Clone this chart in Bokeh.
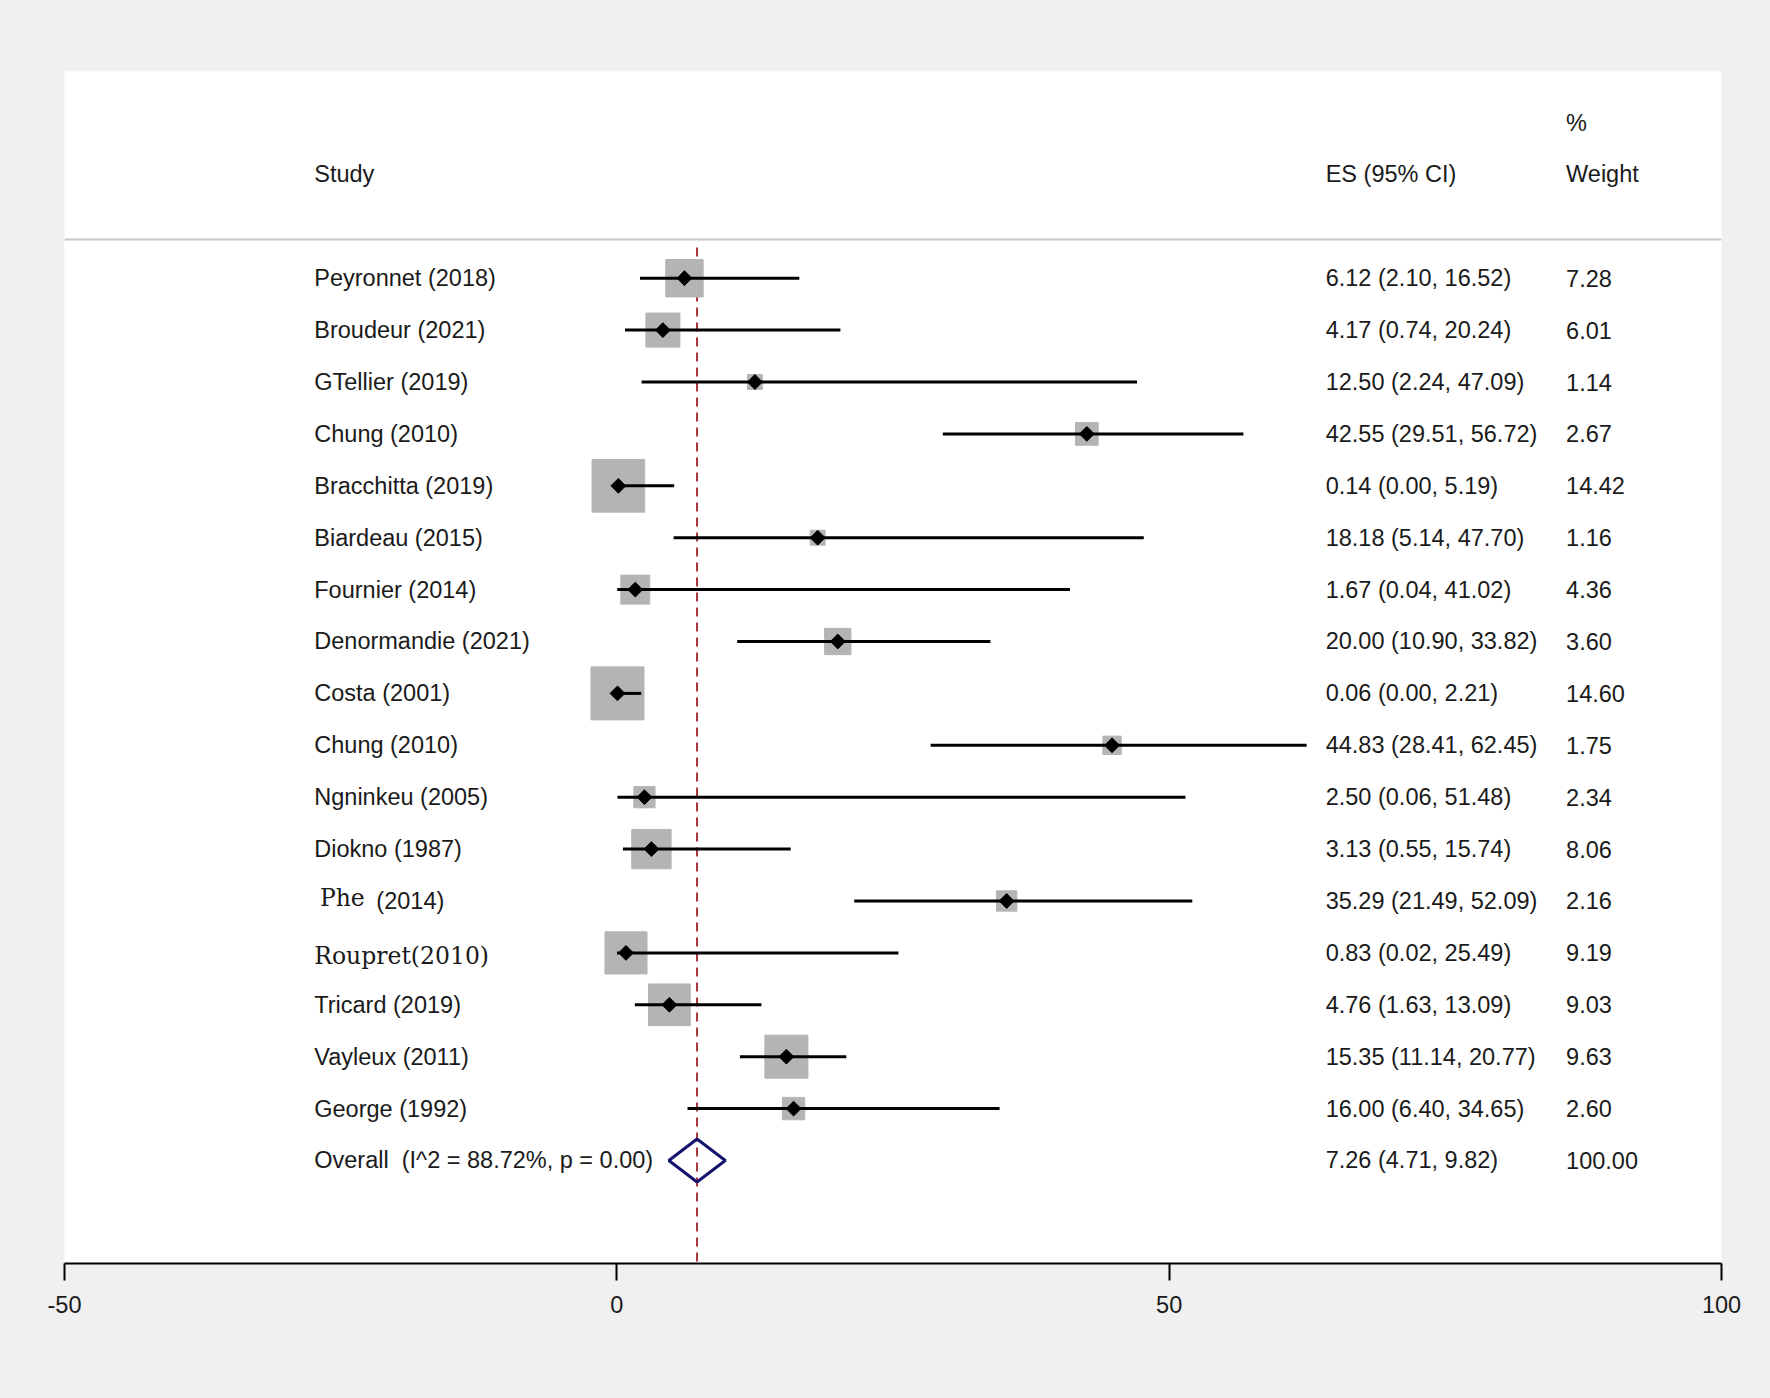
import numpy as np
from bokeh.plotting import figure
from bokeh.models import ColumnDataSource, Range1d, FixedTicker
from bokeh.core.properties import value
from bokeh.embed import file_html
from bokeh.resources import INLINE

# ---------------- data ----------------
studies = ["Peyronnet (2018)", "Broudeur (2021)", "GTellier (2019)", "Chung (2010)",
           "Bracchitta (2019)", "Biardeau (2015)", "Fournier (2014)", "Denormandie (2021)",
           "Costa (2001)", "Chung (2010)", "Ngninkeu (2005)", "Diokno (1987)",
           "Phe  (2014)", "Roupret(2010)", "Tricard (2019)", "Vayleux (2011)", "George (1992)"]
es = [6.12, 4.17, 12.50, 42.55, 0.14, 18.18, 1.67, 20.00, 0.06, 44.83, 2.50, 3.13,
      35.29, 0.83, 4.76, 15.35, 16.00]
ci_low = [2.10, 0.74, 2.24, 29.51, 0.00, 5.14, 0.04, 10.90, 0.00, 28.41, 0.06, 0.55,
          21.49, 0.02, 1.63, 11.14, 6.40]
ci_high = [16.52, 20.24, 47.09, 56.72, 5.19, 47.70, 41.02, 33.82, 2.21, 62.45, 51.48, 15.74,
           52.09, 25.49, 13.09, 20.77, 34.65]
weights = [7.28, 6.01, 1.14, 2.67, 14.42, 1.16, 4.36, 3.60, 14.60, 1.75, 2.34, 8.06,
           2.16, 9.19, 9.03, 9.63, 2.60]
overall_es = 7.26
overall_low = 4.71
overall_high = 9.82
overall_weight = 100.00
i2 = 88.72
p_val = 0.00
x_ticks = [-50, 0, 50, 100]

# ---------------- layout constants ----------------
n = len(studies)
rows = list(range(n))
overall_row = n
X_STUDY = -27.39
X_ES = 64.17
X_W = 85.93
SANS = "Liberation Sans"
SERIF = "DejaVu Serif"
FS = "23.5px"
TXT = "#1a1a1a"

W, H = 1762, 1390
p = figure(width=W, height=H, output_backend="svg", toolbar_location=None,
           x_range=Range1d(-50, 100), y_range=Range1d(18.985, -3.983),
           y_axis_location=None, min_border_left=64, min_border_right=41,
           min_border_top=71, min_border_bottom=127)
p.border_fill_color = "#f0f0f0"
p.background_fill_color = "white"
p.outline_line_color = None
p.xgrid.visible = False
p.ygrid.visible = False

# x axis
ax = p.xaxis[0]
ax.ticker = FixedTicker(ticks=x_ticks)
ax.major_label_overrides = {t: str(t) for t in x_ticks}
ax.axis_line_color = "black"
ax.axis_line_width = 2
ax.major_tick_line_color = "black"
ax.major_tick_line_width = 2
ax.major_tick_out = 17
ax.major_tick_in = 0
ax.minor_tick_line_color = None
ax.major_label_text_font = SANS
ax.major_label_text_font_size = FS
ax.major_label_text_color = TXT
ax.major_label_standoff = 15

# header separator
p.segment(x0=[-50], y0=[-0.746], x1=[100], y1=[-0.746], line_color="#c8c8c8", line_width=2)

# reference dashed line at overall estimate
p.segment(x0=[overall_es], y0=[-0.59], x1=[overall_es], y1=[18.985],
          line_color="#a8343c", line_width=2, line_dash="9 6")

# weight squares
sizes = [53.0 * np.sqrt(w / 14.6) for w in weights]
src = ColumnDataSource(dict(y=rows, es=es, lo=ci_low, hi=ci_high, size=sizes))
p.scatter(x="es", y="y", size="size", marker="square", source=src,
          fill_color="#b4b4b4", line_color="#b4b4b4", line_width=1)
# CI lines
p.segment(x0="lo", y0="y", x1="hi", y1="y", source=src, line_color="black", line_width=3)
# point estimates
p.scatter(x="es", y="y", size=10.5, marker="square", angle=np.pi / 4, source=src,
          fill_color="black", line_color="black")

# overall diamond
p.patch(x=[overall_low, overall_es, overall_high, overall_es],
        y=[overall_row, overall_row - 0.414, overall_row, overall_row + 0.414],
        fill_color="white", fill_alpha=0.0, line_color="#14146e", line_width=3)

def txt(x, y, t, font=SANS, **kw):
    p.text(x=[x] if not isinstance(x, list) else x,
           y=[y] if not isinstance(y, list) else y,
           text=[t] if not isinstance(t, list) else t,
           text_font=value(font), text_font_size=FS, text_color=TXT,
           text_baseline="middle", text_align="left", **kw)

# headers
txt(X_STUDY, -2, "Study")
txt(X_ES, -2, "ES (95% CI)")
txt(X_W, -3, "%")
txt(X_W, -2, "Weight")

# study labels
for i, name in enumerate(studies):
    if name.startswith("Phe"):
        first, rest = name.split(" ", 1)
        txt(-26.88, i - 0.065, first, font=SERIF)
        txt(-21.77, i, rest.strip())
    elif name.startswith("Roupret"):
        txt(X_STUDY, i + 0.065, name, font=SERIF)
    else:
        txt(X_STUDY, i, name)

es_labels = [f"{e:.2f} ({l:.2f}, {h:.2f})" for e, l, h in zip(es, ci_low, ci_high)]
w_labels = [f"{w:.2f}" for w in weights]
txt([X_ES] * n, rows, es_labels)
txt([X_W] * n, rows, w_labels)

txt(X_STUDY, overall_row, f"Overall \u00a0(I^2 = {i2:.2f}%, p = {p_val:.2f})")
txt(X_ES, overall_row, f"{overall_es:.2f} ({overall_low:.2f}, {overall_high:.2f})")
txt(X_W, overall_row, f"{overall_weight:.2f}")

html = file_html(p, INLINE)
html = html.replace("<head>", "<head><style>body{background:#f0f0f0;}</style>", 1)
open("out.html", "w").write(html)
